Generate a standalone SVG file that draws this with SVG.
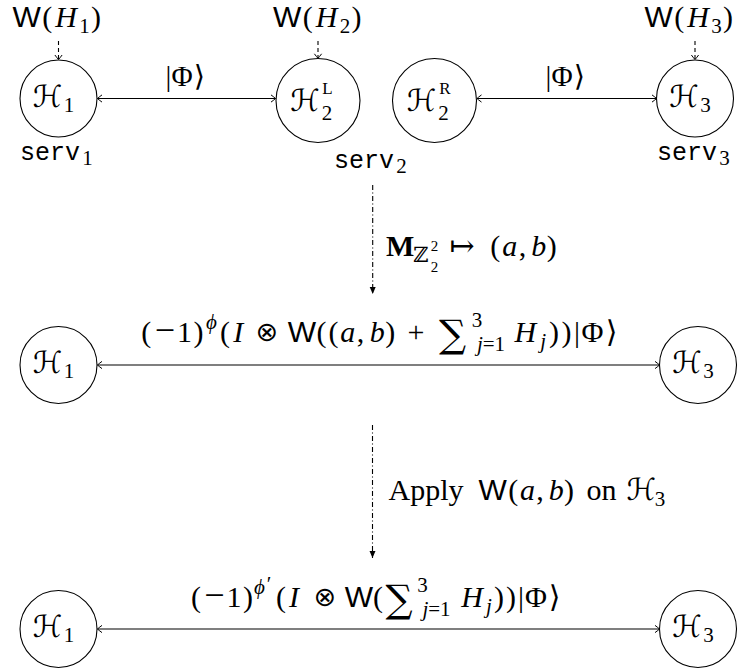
<svg xmlns="http://www.w3.org/2000/svg" width="739" height="672" viewBox="0 0 739 672">
<style>
text { font-family: "Liberation Serif", "DejaVu Serif", serif; font-size: 30px; fill: #000; text-anchor: middle; }
.i { font-style: italic; }
.b { font-weight: bold; }
.sf { font-family: "Liberation Sans", "DejaVu Sans", sans-serif; }
.m { font-family: "DejaVu Serif", "DejaVu Sans", serif; }
.ot { font-family: "DejaVu Sans", serif; font-size: 27px; }
.mi { font-size: 36px; }
.sum { font-family: "DejaVu Serif", "DejaVu Sans", serif; font-size: 38px; }
.sc { font-size: 21px; }
.ss { font-size: 15px; }
.sl { font-size: 17px; }
.e { font-size: 29px; }
.tt { font-family: "Liberation Mono", "DejaVu Sans Mono", monospace; font-size: 25px; text-anchor: start; }
.node circle { fill: #fff; stroke: #000; stroke-width: 1.1; }
.conn line { stroke: #000; stroke-width: 1.1; fill: none; }
.dash { stroke-dasharray: 4 3; }
.dd { stroke-dasharray: 5 2.5 1 2.5; }
</style>
<defs>
<marker id="to" markerUnits="userSpaceOnUse" viewBox="-7 -6 9 12" refX="0" refY="0" markerWidth="9" markerHeight="12" orient="auto-start-reverse">
<path d="M-4.5,-3.6 Q-1.2,-1.2 0,0 Q-1.2,1.2 -4.5,3.6" fill="none" stroke="#000" stroke-width="1"/>
</marker>
<marker id="tri" markerUnits="userSpaceOnUse" viewBox="-8 -4 9 8" refX="0" refY="0" markerWidth="9" markerHeight="8" orient="auto">
<path d="M-7,-3 L0,0 L-7,3 Z" fill="#000"/>
</marker>
</defs>

<g id="connectors" class="conn">
<line x1="97.5" y1="98.5" x2="275.5" y2="98.5" marker-start="url(#to)" marker-end="url(#to)"/>
<line x1="477" y1="98.5" x2="656.5" y2="98.5" marker-start="url(#to)" marker-end="url(#to)"/>
<line x1="97.5" y1="365" x2="659.5" y2="365" marker-start="url(#to)" marker-end="url(#to)"/>
<line x1="97.5" y1="629" x2="659.5" y2="629" marker-start="url(#to)" marker-end="url(#to)"/>
<line class="dash" x1="58.5" y1="41" x2="58.5" y2="59.5" marker-end="url(#to)"/>
<line class="dash" x1="318" y1="41" x2="318" y2="58.3" marker-end="url(#to)"/>
<line class="dash" x1="695" y1="41" x2="695" y2="59.5" marker-end="url(#to)"/>
<line class="dd" x1="372.7" y1="185" x2="372.7" y2="294" marker-end="url(#tri)"/>
<line class="dd" x1="372.5" y1="425" x2="372.5" y2="558" marker-end="url(#tri)"/>
</g>

<g id="edge-labels">
<text class="e" y="86"><tspan x="168.5">|</tspan><tspan x="182">Φ</tspan><tspan x="199.5" class="m">⟩</tspan></text>
<text class="e" y="86"><tspan x="548.5">|</tspan><tspan x="562">Φ</tspan><tspan x="579.5" class="m">⟩</tspan></text>
<text id="lbl-measure">
<tspan x="400.2" y="256" class="b">M</tspan><tspan x="421" y="262" class="m sc">ℤ</tspan><tspan x="434.5" y="251" class="ss">2</tspan><tspan x="434.5" y="272" class="ss">2</tspan><tspan x="462" y="256" class="m">↦</tspan><tspan x="495.2" y="256">(</tspan><tspan x="509.7" y="256" class="i">a</tspan><tspan x="522.4" y="256">,</tspan><tspan x="538.8" y="256" class="i">b</tspan><tspan x="551.7" y="256">)</tspan>
</text>
<text id="lbl-apply">
<tspan x="426" y="500">Apply</tspan><tspan x="492.7" y="500" class="sf">W</tspan><tspan x="513.3" y="500">(</tspan><tspan x="527.6" y="500" class="i">a</tspan><tspan x="540" y="500">,</tspan><tspan x="556.2" y="500" class="i">b</tspan><tspan x="568.9" y="500">)</tspan><tspan x="601.6" y="500">on</tspan><tspan x="641.4" y="500" class="m">ℋ</tspan><tspan x="659.9" y="506" class="sc">3</tspan>
</text>
<text id="lbl-mid">
<tspan x="146.2" y="342">(</tspan><tspan x="165" y="342" class="mi">−</tspan><tspan x="184.5" y="342">1</tspan><tspan x="198.4" y="342">)</tspan><tspan x="211.5" y="329" class="i sc">ϕ</tspan><tspan x="225.1" y="342">(</tspan><tspan x="238.3" y="342" class="i">I</tspan><tspan x="267" y="341" class="ot">⊗</tspan><tspan x="302" y="342" class="sf">W</tspan><tspan x="321.5" y="342">(</tspan><tspan x="333.5" y="342">(</tspan><tspan x="347.7" y="342" class="i">a</tspan><tspan x="360.6" y="342">,</tspan><tspan x="377.2" y="342" class="i">b</tspan><tspan x="390.2" y="342">)</tspan><tspan x="415.9" y="342">+</tspan><tspan x="452.5" y="347" class="sum">∑</tspan><tspan x="477" y="327" class="sc">3</tspan><tspan x="491" y="351" class="sc"><tspan class="i">j</tspan>=1</tspan><tspan x="525.3" y="342" class="i">H</tspan><tspan x="543.2" y="348" class="i sc">j</tspan><tspan x="554" y="342">)</tspan><tspan x="566.5" y="342">)</tspan><tspan x="577" y="342">|</tspan><tspan x="592.5" y="342">Φ</tspan><tspan x="611.5" y="342" class="m">⟩</tspan>
</text>
<text id="lbl-bot">
<tspan x="196.1" y="607">(</tspan><tspan x="214.5" y="607" class="mi">−</tspan><tspan x="234" y="607">1</tspan><tspan x="248" y="607">)</tspan><tspan x="259.5" y="594" class="i sc">ϕ</tspan><tspan x="269" y="591" class="sc">′</tspan><tspan x="281" y="607">(</tspan><tspan x="294" y="607" class="i">I</tspan><tspan x="325" y="606" class="ot">⊗</tspan><tspan x="359" y="607" class="sf">W</tspan><tspan x="378" y="607">(</tspan><tspan x="399" y="612" class="sum">∑</tspan><tspan x="422.5" y="592" class="sc">3</tspan><tspan x="436.5" y="616" class="sc"><tspan class="i">j</tspan>=1</tspan><tspan x="472" y="607" class="i">H</tspan><tspan x="489" y="613" class="i sc">j</tspan><tspan x="499" y="607">)</tspan><tspan x="511" y="607">)</tspan><tspan x="521" y="607">|</tspan><tspan x="536" y="607">Φ</tspan><tspan x="554.5" y="607" class="m">⟩</tspan>
</text>
</g>

<g id="w-labels">
<text><tspan x="26.6" y="27" class="sf">W</tspan><tspan x="47.3" y="27">(</tspan><tspan x="66.2" y="27" class="i">H</tspan><tspan x="84.5" y="33" class="sc">1</tspan><tspan x="96" y="27">)</tspan></text>
<text><tspan x="287.1" y="27" class="sf">W</tspan><tspan x="307.8" y="27">(</tspan><tspan x="326.7" y="27" class="i">H</tspan><tspan x="345" y="33" class="sc">2</tspan><tspan x="356.5" y="27">)</tspan></text>
<text><tspan x="658.6" y="27" class="sf">W</tspan><tspan x="679.3" y="27">(</tspan><tspan x="698.2" y="27" class="i">H</tspan><tspan x="716.5" y="33" class="sc">3</tspan><tspan x="728" y="27">)</tspan></text>
</g>

<g id="serv-labels">
<text class="tt" x="20" y="160">serv</text><text class="sc" x="87.5" y="165">1</text>
<text class="tt" x="334" y="168">serv</text><text class="sc" x="401.5" y="173">2</text>
<text class="tt" x="657" y="160">serv</text><text class="sc" x="724.5" y="165">3</text>
</g>

<g id="n-h1" class="node">
<circle cx="58.5" cy="98.5" r="38.5"/>
<text><tspan x="47.5" y="107" class="m">ℋ</tspan><tspan x="69" y="112" class="sc">1</tspan></text>
</g>
<g id="n-h2l" class="node">
<circle cx="318" cy="100.5" r="42"/>
<text><tspan x="305" y="110.5" class="m">ℋ</tspan><tspan x="327.5" y="94" class="sl">L</tspan><tspan x="327" y="120" class="sc">2</tspan></text>
</g>
<g id="n-h2r" class="node">
<circle cx="434.5" cy="100.5" r="42"/>
<text><tspan x="421.5" y="110.5" class="m">ℋ</tspan><tspan x="445" y="94" class="sl">R</tspan><tspan x="443.5" y="120" class="sc">2</tspan></text>
</g>
<g id="n-h3" class="node">
<circle cx="695" cy="98.5" r="38.5"/>
<text><tspan x="684" y="107" class="m">ℋ</tspan><tspan x="705.5" y="112" class="sc">3</tspan></text>
</g>
<g id="n-h1-mid" class="node">
<circle cx="58.5" cy="365" r="38.5"/>
<text><tspan x="47.5" y="373" class="m">ℋ</tspan><tspan x="69" y="378" class="sc">1</tspan></text>
</g>
<g id="n-h3-mid" class="node">
<circle cx="698" cy="365" r="38.5"/>
<text><tspan x="687" y="373" class="m">ℋ</tspan><tspan x="708.5" y="378" class="sc">3</tspan></text>
</g>
<g id="n-h1-bot" class="node">
<circle cx="58.5" cy="629" r="38.5"/>
<text><tspan x="47.5" y="637" class="m">ℋ</tspan><tspan x="69" y="642" class="sc">1</tspan></text>
</g>
<g id="n-h3-bot" class="node">
<circle cx="698" cy="629" r="38.5"/>
<text><tspan x="687" y="637" class="m">ℋ</tspan><tspan x="708.5" y="642" class="sc">3</tspan></text>
</g>
</svg>
